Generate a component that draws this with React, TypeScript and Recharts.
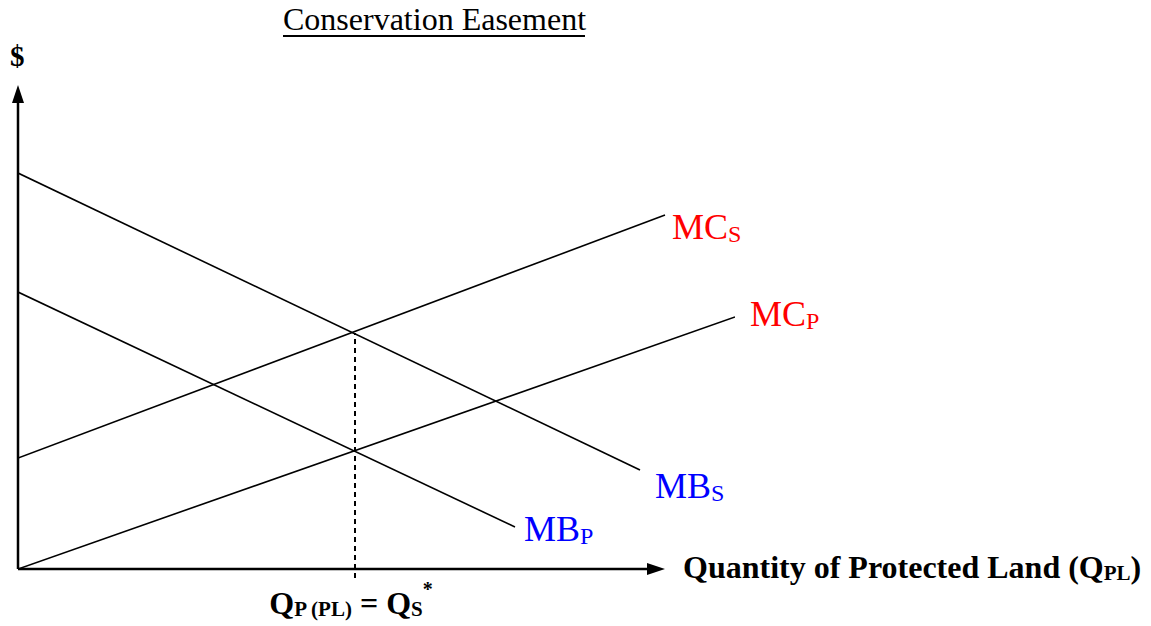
import React from 'react';
import { ComposedChart, Line, XAxis, YAxis, ReferenceLine, ReferenceDot } from 'recharts';

// Values (quantity, dollars) in arbitrary chart units
const mbSocial = [{ q: 0, v: 396 }, { q: 622, v: 99 }];
const mbPrivate = [{ q: 0, v: 277 }, { q: 497, v: 42 }];
const mcSocial = [{ q: 0, v: 111 }, { q: 647, v: 354 }];
const mcPrivate = [{ q: 0, v: 0 }, { q: 717, v: 252 }];
const qStar = 337;
const pStar = 236;
const xAxisEnd = 647;
const yAxisEnd = 484;
const xDomain = [0, 717];
const yDomain = [0, 484];
const titleText = 'Conservation Easement';

const SERIF = '"Liberation Serif", "Times New Roman", Times, serif';

const curveLabel = (main: string, sub: string, color: string, dx: number, dy: number) => (p: any) => (
  <text x={p.cx + dx} y={p.cy + dy} fill={color} fontFamily={SERIF} fontSize={36}>
    <tspan>{main}</tspan>
    <tspan fontSize={24} dy={3}>{sub}</tspan>
  </text>
);

const upArrow = (p: any) => (
  <polygon points={`${p.cx},${p.cy} ${p.cx - 6},${p.cy + 18} ${p.cx + 6},${p.cy + 18}`} fill="#000" />
);
const rightArrow = (p: any) => (
  <polygon points={`${p.cx},${p.cy} ${p.cx - 18},${p.cy - 6} ${p.cx - 18},${p.cy + 6}`} fill="#000" />
);

const topLabels = (p: any) => (
  <g>
    <text x={p.cx - 8} y={p.cy - 19} fill="#000" fontFamily={SERIF} fontSize={29} fontWeight="bold">$</text>
    <text x={p.cx + 265} y={p.cy - 55} fill="#000" fontFamily={SERIF} fontSize={32}>{titleText}</text>
    <line x1={p.cx + 265} x2={p.cx + 567} y1={p.cy - 49} y2={p.cy - 49} stroke="#000" strokeWidth={2} />
  </g>
);

const xLabel = (p: any) => (
  <text x={p.cx + 18} y={p.cy + 9} fill="#000" fontFamily={SERIF} fontSize={32} fontWeight="bold">
    <tspan>Quantity of Protected Land (Q</tspan>
    <tspan fontSize={21} dy={2}>PL</tspan>
    <tspan dy={-2}>)</tspan>
  </text>
);

const qLabel = (p: any) => (
  <text x={p.cx - 4} y={p.cy + 45} fill="#000" fontFamily={SERIF} fontSize={32} fontWeight="bold" textAnchor="middle">
    <tspan>Q</tspan>
    <tspan fontSize={21} dy={2}>P (PL)</tspan>
    <tspan dy={-2}> = Q</tspan>
    <tspan fontSize={21} dy={2}>S</tspan>
    <tspan fontSize={20} dy={-20}>*</tspan>
  </text>
);

export default function App() {
  return (
    <div style={{ position: 'fixed', left: 0, top: 0, width: 1151, height: 626, background: '#fff' }}>
      <ComposedChart width={1151} height={626} margin={{ top: 85, left: 18, right: 416, bottom: 57 }}>
        <XAxis type="number" dataKey="q" domain={xDomain} hide allowDataOverflow />
        <YAxis type="number" dataKey="v" domain={yDomain} hide allowDataOverflow />
        <ReferenceLine
          segment={[{ x: qStar, y: -9 }, { x: qStar, y: pStar }]}
          stroke="#000" strokeWidth={2} strokeDasharray="5 4" ifOverflow="visible"
        />
        <ReferenceLine segment={[{ x: 0, y: 0 }, { x: xAxisEnd - 16, y: 0 }]} stroke="#000" strokeWidth={2.5} ifOverflow="visible" />
        <ReferenceLine segment={[{ x: 0, y: 0 }, { x: 0, y: yAxisEnd - 16 }]} stroke="#000" strokeWidth={2.5} ifOverflow="visible" />
        <Line data={mbSocial} dataKey="v" stroke="#000" strokeWidth={1.6} dot={false} isAnimationActive={false} />
        <Line data={mbPrivate} dataKey="v" stroke="#000" strokeWidth={1.6} dot={false} isAnimationActive={false} />
        <Line data={mcSocial} dataKey="v" stroke="#000" strokeWidth={1.6} dot={false} isAnimationActive={false} />
        <Line data={mcPrivate} dataKey="v" stroke="#000" strokeWidth={1.6} dot={false} isAnimationActive={false} />
        <ReferenceDot x={0} y={yAxisEnd} r={0} ifOverflow="visible" shape={upArrow} />
        <ReferenceDot x={0} y={yAxisEnd} r={0} ifOverflow="visible" shape={topLabels} />
        <ReferenceDot x={xAxisEnd} y={0} r={0} ifOverflow="visible" shape={rightArrow} />
        <ReferenceDot x={xAxisEnd} y={0} r={0} ifOverflow="visible" shape={xLabel} />
        <ReferenceDot x={qStar} y={0} r={0} ifOverflow="visible" shape={qLabel} />
        <ReferenceDot x={mcSocial[1].q} y={mcSocial[1].v} r={0} ifOverflow="visible" shape={curveLabel('MC', 'S', '#ff0000', 7, 24)} />
        <ReferenceDot x={mcPrivate[1].q} y={mcPrivate[1].v} r={0} ifOverflow="visible" shape={curveLabel('MC', 'P', '#ff0000', 15, 9)} />
        <ReferenceDot x={mbSocial[1].q} y={mbSocial[1].v} r={0} ifOverflow="visible" shape={curveLabel('MB', 'S', '#0000ff', 15, 28)} />
        <ReferenceDot x={mbPrivate[1].q} y={mbPrivate[1].v} r={0} ifOverflow="visible" shape={curveLabel('MB', 'P', '#0000ff', 9, 14)} />
      </ComposedChart>
    </div>
  );
}
